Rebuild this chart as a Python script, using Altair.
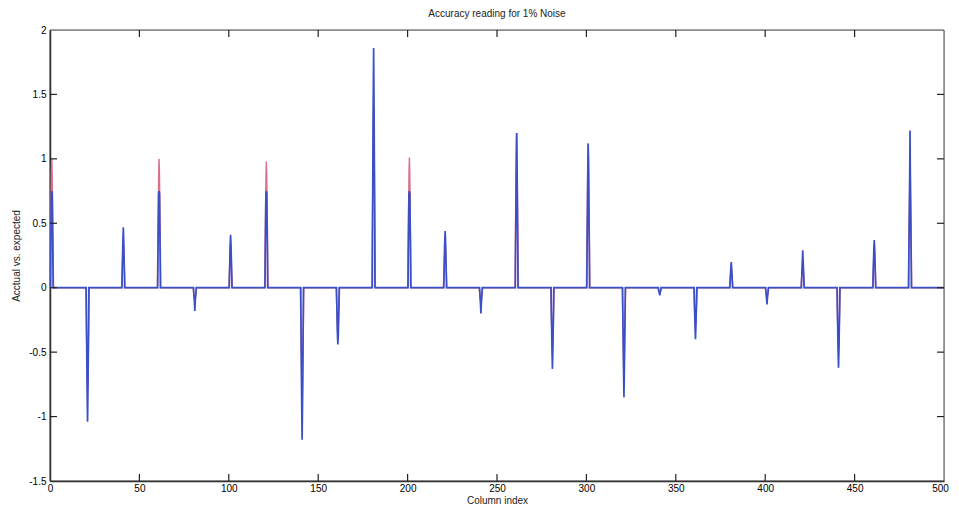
import altair as alt
import pandas as pd

# Spike columns and values
spike_cols = [1, 21, 41, 61, 81, 101, 121, 141, 161, 181, 201, 221, 241,
              261, 281, 301, 321, 341, 361, 381, 401, 421, 441, 461, 481]
blue_tip = [0.75, -1.04, 0.47, 0.75, -0.18, 0.41, 0.75, -1.18, -0.44, 1.86,
            0.75, 0.44, -0.20, 1.20, -0.63, 1.12, -0.85, -0.06, -0.40, 0.20,
            -0.13, 0.29, -0.62, 0.37, 1.22]
blue_thick = [0.73, -0.78, 0.35, 0.73, -0.10, 0.33, 0.73, -0.88, -0.36, 1.40,
              0.73, 0.35, -0.12, 0.88, -0.48, 0.85, -0.62, -0.04, -0.30, 0.15,
              -0.08, 0.20, -0.48, 0.30, 0.75]
blue_base = [0.25, -0.27, 0.12, 0.25, -0.04, 0.10, 0.25, -0.30, -0.12, 0.50,
             0.25, 0.12, -0.04, 0.30, -0.18, 0.30, -0.22, -0.02, -0.10, 0.05,
             -0.03, 0.07, -0.18, 0.10, 0.30]
red_peak = [1.00, -0.78, 0.35, 1.00, -0.10, 0.33, 0.98, -0.88, -0.36, 1.40,
            1.01, 0.35, -0.12, 1.20, -0.48, 1.12, -0.62, -0.04, -0.30, 0.15,
            -0.08, 0.20, -0.48, 0.30, 0.93]

x_ticks = [0, 50, 100, 150, 200, 250, 300, 350, 400, 450, 500]
y_ticks = [-1.5, -1, -0.5, 0, 0.5, 1, 1.5, 2]

title_text = "Accuracy reading for 1% Noise"
x_title = "Column index"
y_title = "Acctual vs. expected"

# Build line tables
rows = []
i = 0
rows.append({"x": 0, "y": 0, "s": "actual", "o": i}); i += 1
for c, t, k, b in zip(spike_cols, blue_tip, blue_thick, blue_base):
    for dx, v in [(-1, 0), (-0.75, 0), (-0.6, b), (-0.25, k), (0, t), (0.25, k), (0.6, b), (0.75, 0), (1, 0)]:
        rows.append({"x": c + dx, "y": v, "s": "actual", "o": i}); i += 1
rows.append({"x": 500, "y": 0, "s": "actual", "o": i}); i += 1

rows.append({"x": 0, "y": 0, "s": "expected", "o": i}); i += 1
for c, r in zip(spike_cols, red_peak):
    for dx, v in [(-1, 0), (-0.2, r * 0.9), (0, r), (0.2, r * 0.9), (1, 0)]:
        rows.append({"x": c + dx, "y": v, "s": "expected", "o": i}); i += 1
rows.append({"x": 500, "y": 0, "s": "expected", "o": i}); i += 1

df = pd.DataFrame(rows)
red_df = df[df.s == "expected"]
blue_df = df[df.s == "actual"]

W, H = 894, 451
xs = alt.Scale(domain=[0, 500], nice=False, zero=False)
ys = alt.Scale(domain=[-1.5, 2], nice=False, zero=False)

font = "Liberation Sans"

x_axis = alt.Axis(values=x_ticks, title=x_title, ticks=False, domain=True,
                  domainColor="#222", domainWidth=1.5, grid=False, labelPadding=2,
                  titlePadding=2, labelFlush=False, titleFontWeight="normal",
                  titleFont=font, titleFontSize=10, titleColor="#222",
                  labelOffset={"condition": {"test": "datum.value == 500", "value": -4}, "value": 0})
y_axis = alt.Axis(values=y_ticks, title=y_title, ticks=False, domain=True,
                  domainColor="#222", domainWidth=1.5, grid=False, labelPadding=4,
                  titlePadding=7, labelExpr="'' + datum.value", titleFontWeight="normal",
                  titleFont=font, titleFontSize=10, titleColor="#222")

red_line = alt.Chart(red_df).mark_line(color="#d8708a", strokeWidth=1.4).encode(
    x=alt.X("x:Q", scale=xs, axis=x_axis),
    y=alt.Y("y:Q", scale=ys, axis=y_axis),
    order="o:Q",
)
blue_line = alt.Chart(blue_df).mark_line(color="#3a4fc8", strokeWidth=1.7).encode(
    x=alt.X("x:Q", scale=xs, axis=x_axis),
    y=alt.Y("y:Q", scale=ys, axis=y_axis),
    order="o:Q",
)

xt = pd.DataFrame({"x": x_ticks[1:-1]})
yt = pd.DataFrame({"y": y_ticks[1:-1]})
tick_style = dict(color="#222", strokeWidth=1.2)
bottom_ticks = alt.Chart(xt).mark_rule(**tick_style).encode(
    x=alt.X("x:Q", scale=xs, axis=x_axis), y=alt.value(H), y2=alt.value(H - 7))
top_ticks = alt.Chart(xt).mark_rule(**tick_style).encode(
    x=alt.X("x:Q", scale=xs, axis=x_axis), y=alt.value(0), y2=alt.value(7))
left_ticks = alt.Chart(yt).mark_rule(**tick_style).encode(
    y=alt.Y("y:Q", scale=ys, axis=y_axis), x=alt.value(0), x2=alt.value(7))
right_ticks = alt.Chart(yt).mark_rule(**tick_style).encode(
    y=alt.Y("y:Q", scale=ys, axis=y_axis), x=alt.value(W - 7), x2=alt.value(W))

frame = alt.Chart(pd.DataFrame({"k": [0]})).mark_rect(
    fill=None, stroke="#444", strokeWidth=1).encode(
    x=alt.value(0), x2=alt.value(W), y=alt.value(0), y2=alt.value(H))

chart = alt.layer(frame, red_line, blue_line, bottom_ticks, top_ticks, left_ticks, right_ticks).properties(
    width=W, height=H,
    title=alt.TitleParams(title_text, font=font, fontSize=10, fontWeight="normal",
                          color="#222", offset=6, anchor="middle"),
    autosize=alt.AutoSizeParams(type="none"),
    padding={"left": 42, "top": 22, "right": 7, "bottom": 25},
).configure_view(stroke=None).configure_axis(
    labelFont=font, labelFontSize=10, labelColor="#222",
).configure(background="white")

chart.save("out.html", embed_options={"renderer": "svg", "actions": False})
